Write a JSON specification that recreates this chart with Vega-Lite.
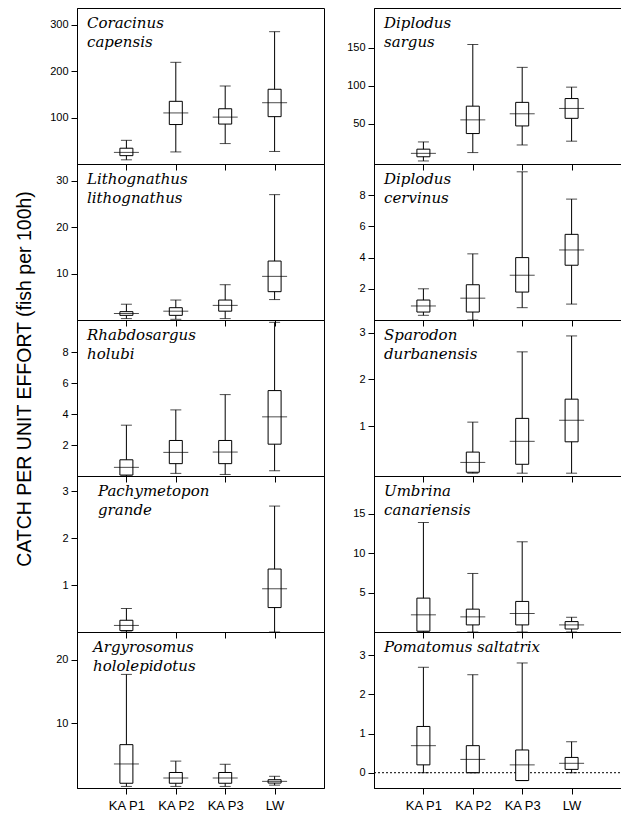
{
  "$schema": "https://vega.github.io/schema/vega-lite/v6.json",
  "padding": {"left": 14, "top": 7, "right": 0, "bottom": 4},
  "background": "white",
  "title": {"text": "CATCH PER UNIT EFFORT (fish per 100h)", "orient": "left", "anchor": "middle", "font": "Liberation Sans", "fontStyle": "normal", "fontSize": 19.5, "fontWeight": "normal", "color": "black", "offset": 14, "dx": 31},
  "data": {"values": [
    {"species": "Coracinus capensis", "site": "KA P1", "lo": 9, "q1": 18, "med": 25, "q3": 34, "hi": 51},
    {"species": "Coracinus capensis", "site": "KA P2", "lo": 26, "q1": 85, "med": 110, "q3": 135, "hi": 219},
    {"species": "Coracinus capensis", "site": "KA P3", "lo": 44, "q1": 86, "med": 101, "q3": 119, "hi": 168},
    {"species": "Coracinus capensis", "site": "LW", "lo": 27, "q1": 102, "med": 132, "q3": 161, "hi": 285},
    {"species": "Diplodus sargus", "site": "KA P1", "lo": 1, "q1": 6.5, "med": 11, "q3": 16.5, "hi": 26},
    {"species": "Diplodus sargus", "site": "KA P2", "lo": 12, "q1": 37, "med": 55, "q3": 73, "hi": 154},
    {"species": "Diplodus sargus", "site": "KA P3", "lo": 22, "q1": 47, "med": 63, "q3": 78, "hi": 124},
    {"species": "Diplodus sargus", "site": "LW", "lo": 27, "q1": 57, "med": 70, "q3": 83, "hi": 98},
    {"species": "Lithognathus lithognathus", "site": "KA P1", "lo": 0.3, "q1": 1.0, "med": 1.4, "q3": 1.8, "hi": 3.4},
    {"species": "Lithognathus lithognathus", "site": "KA P2", "lo": 0.15, "q1": 1.0, "med": 1.9, "q3": 2.65, "hi": 4.3},
    {"species": "Lithognathus lithognathus", "site": "KA P3", "lo": 0.3, "q1": 1.9, "med": 3.15, "q3": 4.3, "hi": 7.6},
    {"species": "Lithognathus lithognathus", "site": "LW", "lo": 4.4, "q1": 6.1, "med": 9.4, "q3": 12.7, "hi": 27},
    {"species": "Diplodus cervinus", "site": "KA P1", "lo": 0.3, "q1": 0.51, "med": 0.9, "q3": 1.28, "hi": 2.0},
    {"species": "Diplodus cervinus", "site": "KA P2", "lo": 0, "q1": 0.51, "med": 1.4, "q3": 2.26, "hi": 4.24},
    {"species": "Diplodus cervinus", "site": "KA P3", "lo": 0.79, "q1": 1.79, "med": 2.87, "q3": 4.0, "hi": 9.5},
    {"species": "Diplodus cervinus", "site": "LW", "lo": 1.02, "q1": 3.51, "med": 4.49, "q3": 5.49, "hi": 7.75},
    {"species": "Rhabdosargus holubi", "site": "KA P1", "lo": 0, "q1": 0.06, "med": 0.56, "q3": 1.05, "hi": 3.29},
    {"species": "Rhabdosargus holubi", "site": "KA P2", "lo": 0.17, "q1": 0.8, "med": 1.53, "q3": 2.3, "hi": 4.28},
    {"species": "Rhabdosargus holubi", "site": "KA P3", "lo": 0.1, "q1": 0.8, "med": 1.55, "q3": 2.3, "hi": 5.27},
    {"species": "Rhabdosargus holubi", "site": "LW", "lo": 0.34, "q1": 2.06, "med": 3.83, "q3": 5.53, "hi": 9.95},
    {"species": "Sparodon durbanensis", "site": "KA P2", "lo": 0, "q1": 0.02, "med": 0.23, "q3": 0.45, "hi": 1.09},
    {"species": "Sparodon durbanensis", "site": "KA P3", "lo": 0, "q1": 0.19, "med": 0.68, "q3": 1.17, "hi": 2.59},
    {"species": "Sparodon durbanensis", "site": "LW", "lo": 0, "q1": 0.67, "med": 1.13, "q3": 1.58, "hi": 2.93},
    {"species": "Pachymetopon grande", "site": "KA P1", "lo": 0, "q1": 0.03, "med": 0.14, "q3": 0.25, "hi": 0.5},
    {"species": "Pachymetopon grande", "site": "LW", "lo": 0, "q1": 0.52, "med": 0.92, "q3": 1.34, "hi": 2.68},
    {"species": "Umbrina canariensis", "site": "KA P1", "lo": 0, "q1": 0.1, "med": 2.18, "q3": 4.3, "hi": 13.9},
    {"species": "Umbrina canariensis", "site": "KA P2", "lo": 0, "q1": 0.9, "med": 1.92, "q3": 2.9, "hi": 7.43},
    {"species": "Umbrina canariensis", "site": "KA P3", "lo": 0, "q1": 0.9, "med": 2.35, "q3": 3.88, "hi": 11.45},
    {"species": "Umbrina canariensis", "site": "LW", "lo": 0, "q1": 0.38, "med": 0.9, "q3": 1.32, "hi": 1.87},
    {"species": "Argyrosomus hololepidotus", "site": "KA P1", "lo": 0, "q1": 0.5, "med": 3.55, "q3": 6.6, "hi": 17.7},
    {"species": "Argyrosomus hololepidotus", "site": "KA P2", "lo": 0, "q1": 0.5, "med": 1.33, "q3": 2.2, "hi": 4.0},
    {"species": "Argyrosomus hololepidotus", "site": "KA P3", "lo": 0, "q1": 0.5, "med": 1.33, "q3": 2.2, "hi": 3.5},
    {"species": "Argyrosomus hololepidotus", "site": "LW", "lo": 0.2, "q1": 0.53, "med": 0.8, "q3": 1.06, "hi": 1.6},
    {"species": "Pomatomus saltatrix", "site": "KA P1", "lo": 0, "q1": 0.2, "med": 0.69, "q3": 1.18, "hi": 2.69},
    {"species": "Pomatomus saltatrix", "site": "KA P2", "lo": 0, "q1": 0, "med": 0.34, "q3": 0.69, "hi": 2.5},
    {"species": "Pomatomus saltatrix", "site": "KA P3", "lo": -0.2, "q1": -0.2, "med": 0.2, "q3": 0.58, "hi": 2.8},
    {"species": "Pomatomus saltatrix", "site": "LW", "lo": 0, "q1": 0.085, "med": 0.24, "q3": 0.39, "hi": 0.79}
  ]},
  "columns": 2,
  "spacing": {"row": 0, "column": 50},
  "bounds": "flush",
  "concat": [
    {
      "width": 247, "height": 156,
      "title": {"text": ["Coracinus", "capensis"], "orient": "top", "anchor": "start", "frame": "group", "baseline": "top", "offset": -42, "dx": 10},
      "transform": [{"filter": "datum.species === 'Coracinus capensis'"}],
      "encoding": {"x": {"field": "site", "type": "nominal", "scale": {"type": "point", "padding": 1, "domain": ["KA P1", "KA P2", "KA P3", "LW"]}, "axis": {"labels": false, "title": null}}},
      "layer": [
        {"mark": {"type": "rule", "color": "black"}, "encoding": {"y": {"field": "lo", "type": "quantitative", "scale": {"domain": [0, 336], "nice": false, "zero": false}, "axis": {"values": [100, 200, 300], "title": null}}, "y2": {"field": "hi"}}},
        {"mark": {"type": "bar", "fill": "white", "stroke": "black", "strokeWidth": 1, "size": 13}, "encoding": {"y": {"field": "q1", "type": "quantitative", "scale": {"domain": [0, 336], "nice": false, "zero": false}, "axis": {"values": [100, 200, 300], "title": null}}, "y2": {"field": "q3"}}},
        {"mark": {"type": "tick", "color": "black", "size": 25, "thickness": 1}, "encoding": {"y": {"field": "med", "type": "quantitative", "scale": {"domain": [0, 336], "nice": false, "zero": false}, "axis": {"values": [100, 200, 300], "title": null}}}},
        {"mark": {"type": "tick", "color": "black", "size": 11, "thickness": 1}, "encoding": {"y": {"field": "lo", "type": "quantitative", "scale": {"domain": [0, 336], "nice": false, "zero": false}, "axis": {"values": [100, 200, 300], "title": null}}}},
        {"mark": {"type": "tick", "color": "black", "size": 11, "thickness": 1}, "encoding": {"y": {"field": "hi", "type": "quantitative", "scale": {"domain": [0, 336], "nice": false, "zero": false}, "axis": {"values": [100, 200, 300], "title": null}}}}
      ]
    },
    {
      "width": 247, "height": 156,
      "title": {"text": ["Diplodus", "sargus"], "orient": "top", "anchor": "start", "frame": "group", "baseline": "top", "offset": -42, "dx": 10},
      "transform": [{"filter": "datum.species === 'Diplodus sargus'"}],
      "encoding": {"x": {"field": "site", "type": "nominal", "scale": {"type": "point", "padding": 1, "domain": ["KA P1", "KA P2", "KA P3", "LW"]}, "axis": {"labels": false, "title": null}}},
      "layer": [
        {"mark": {"type": "rule", "color": "black"}, "encoding": {"y": {"field": "lo", "type": "quantitative", "scale": {"domain": [-3, 202], "nice": false, "zero": false}, "axis": {"values": [50, 100, 150], "title": null}}, "y2": {"field": "hi"}}},
        {"mark": {"type": "bar", "fill": "white", "stroke": "black", "strokeWidth": 1, "size": 13}, "encoding": {"y": {"field": "q1", "type": "quantitative", "scale": {"domain": [-3, 202], "nice": false, "zero": false}, "axis": {"values": [50, 100, 150], "title": null}}, "y2": {"field": "q3"}}},
        {"mark": {"type": "tick", "color": "black", "size": 25, "thickness": 1}, "encoding": {"y": {"field": "med", "type": "quantitative", "scale": {"domain": [-3, 202], "nice": false, "zero": false}, "axis": {"values": [50, 100, 150], "title": null}}}},
        {"mark": {"type": "tick", "color": "black", "size": 11, "thickness": 1}, "encoding": {"y": {"field": "lo", "type": "quantitative", "scale": {"domain": [-3, 202], "nice": false, "zero": false}, "axis": {"values": [50, 100, 150], "title": null}}}},
        {"mark": {"type": "tick", "color": "black", "size": 11, "thickness": 1}, "encoding": {"y": {"field": "hi", "type": "quantitative", "scale": {"domain": [-3, 202], "nice": false, "zero": false}, "axis": {"values": [50, 100, 150], "title": null}}}}
      ]
    },
    {
      "width": 247, "height": 156,
      "title": {"text": ["Lithognathus", "lithognathus"], "orient": "top", "anchor": "start", "frame": "group", "baseline": "top", "offset": -42, "dx": 10},
      "transform": [{"filter": "datum.species === 'Lithognathus lithognathus'"}],
      "encoding": {"x": {"field": "site", "type": "nominal", "scale": {"type": "point", "padding": 1, "domain": ["KA P1", "KA P2", "KA P3", "LW"]}, "axis": {"labels": false, "title": null}}},
      "layer": [
        {"mark": {"type": "rule", "color": "black"}, "encoding": {"y": {"field": "lo", "type": "quantitative", "scale": {"domain": [0, 33.6], "nice": false, "zero": false}, "axis": {"values": [10, 20, 30], "title": null}}, "y2": {"field": "hi"}}},
        {"mark": {"type": "bar", "fill": "white", "stroke": "black", "strokeWidth": 1, "size": 13}, "encoding": {"y": {"field": "q1", "type": "quantitative", "scale": {"domain": [0, 33.6], "nice": false, "zero": false}, "axis": {"values": [10, 20, 30], "title": null}}, "y2": {"field": "q3"}}},
        {"mark": {"type": "tick", "color": "black", "size": 25, "thickness": 1}, "encoding": {"y": {"field": "med", "type": "quantitative", "scale": {"domain": [0, 33.6], "nice": false, "zero": false}, "axis": {"values": [10, 20, 30], "title": null}}}},
        {"mark": {"type": "tick", "color": "black", "size": 11, "thickness": 1}, "encoding": {"y": {"field": "lo", "type": "quantitative", "scale": {"domain": [0, 33.6], "nice": false, "zero": false}, "axis": {"values": [10, 20, 30], "title": null}}}},
        {"mark": {"type": "tick", "color": "black", "size": 11, "thickness": 1}, "encoding": {"y": {"field": "hi", "type": "quantitative", "scale": {"domain": [0, 33.6], "nice": false, "zero": false}, "axis": {"values": [10, 20, 30], "title": null}}}}
      ]
    },
    {
      "width": 247, "height": 156,
      "title": {"text": ["Diplodus", "cervinus"], "orient": "top", "anchor": "start", "frame": "group", "baseline": "top", "offset": -42, "dx": 10},
      "transform": [{"filter": "datum.species === 'Diplodus cervinus'"}],
      "encoding": {"x": {"field": "site", "type": "nominal", "scale": {"type": "point", "padding": 1, "domain": ["KA P1", "KA P2", "KA P3", "LW"]}, "axis": {"labels": false, "title": null}}},
      "layer": [
        {"mark": {"type": "rule", "color": "black"}, "encoding": {"y": {"field": "lo", "type": "quantitative", "scale": {"domain": [0, 10], "nice": false, "zero": false}, "axis": {"values": [2, 4, 6, 8], "title": null}}, "y2": {"field": "hi"}}},
        {"mark": {"type": "bar", "fill": "white", "stroke": "black", "strokeWidth": 1, "size": 13}, "encoding": {"y": {"field": "q1", "type": "quantitative", "scale": {"domain": [0, 10], "nice": false, "zero": false}, "axis": {"values": [2, 4, 6, 8], "title": null}}, "y2": {"field": "q3"}}},
        {"mark": {"type": "tick", "color": "black", "size": 25, "thickness": 1}, "encoding": {"y": {"field": "med", "type": "quantitative", "scale": {"domain": [0, 10], "nice": false, "zero": false}, "axis": {"values": [2, 4, 6, 8], "title": null}}}},
        {"mark": {"type": "tick", "color": "black", "size": 11, "thickness": 1}, "encoding": {"y": {"field": "lo", "type": "quantitative", "scale": {"domain": [0, 10], "nice": false, "zero": false}, "axis": {"values": [2, 4, 6, 8], "title": null}}}},
        {"mark": {"type": "tick", "color": "black", "size": 11, "thickness": 1}, "encoding": {"y": {"field": "hi", "type": "quantitative", "scale": {"domain": [0, 10], "nice": false, "zero": false}, "axis": {"values": [2, 4, 6, 8], "title": null}}}}
      ]
    },
    {
      "width": 247, "height": 156,
      "title": {"text": ["Rhabdosargus", "holubi"], "orient": "top", "anchor": "start", "frame": "group", "baseline": "top", "offset": -42, "dx": 10},
      "transform": [{"filter": "datum.species === 'Rhabdosargus holubi'"}],
      "encoding": {"x": {"field": "site", "type": "nominal", "scale": {"type": "point", "padding": 1, "domain": ["KA P1", "KA P2", "KA P3", "LW"]}, "axis": {"labels": false, "title": null}}},
      "layer": [
        {"mark": {"type": "rule", "color": "black"}, "encoding": {"y": {"field": "lo", "type": "quantitative", "scale": {"domain": [0, 10.1], "nice": false, "zero": false}, "axis": {"values": [2, 4, 6, 8], "title": null}}, "y2": {"field": "hi"}}},
        {"mark": {"type": "bar", "fill": "white", "stroke": "black", "strokeWidth": 1, "size": 13}, "encoding": {"y": {"field": "q1", "type": "quantitative", "scale": {"domain": [0, 10.1], "nice": false, "zero": false}, "axis": {"values": [2, 4, 6, 8], "title": null}}, "y2": {"field": "q3"}}},
        {"mark": {"type": "tick", "color": "black", "size": 25, "thickness": 1}, "encoding": {"y": {"field": "med", "type": "quantitative", "scale": {"domain": [0, 10.1], "nice": false, "zero": false}, "axis": {"values": [2, 4, 6, 8], "title": null}}}},
        {"mark": {"type": "tick", "color": "black", "size": 11, "thickness": 1}, "encoding": {"y": {"field": "lo", "type": "quantitative", "scale": {"domain": [0, 10.1], "nice": false, "zero": false}, "axis": {"values": [2, 4, 6, 8], "title": null}}}},
        {"mark": {"type": "tick", "color": "black", "size": 11, "thickness": 1}, "encoding": {"y": {"field": "hi", "type": "quantitative", "scale": {"domain": [0, 10.1], "nice": false, "zero": false}, "axis": {"values": [2, 4, 6, 8], "title": null}}}}
      ]
    },
    {
      "width": 247, "height": 156,
      "title": {"text": ["Sparodon", "durbanensis"], "orient": "top", "anchor": "start", "frame": "group", "baseline": "top", "offset": -42, "dx": 10},
      "transform": [{"filter": "datum.species === 'Sparodon durbanensis'"}],
      "encoding": {"x": {"field": "site", "type": "nominal", "scale": {"type": "point", "padding": 1, "domain": ["KA P1", "KA P2", "KA P3", "LW"]}, "axis": {"labels": false, "title": null}}},
      "layer": [
        {"mark": {"type": "rule", "color": "black"}, "encoding": {"y": {"field": "lo", "type": "quantitative", "scale": {"domain": [-0.06, 3.27], "nice": false, "zero": false}, "axis": {"values": [1, 2, 3], "title": null}}, "y2": {"field": "hi"}}},
        {"mark": {"type": "bar", "fill": "white", "stroke": "black", "strokeWidth": 1, "size": 13}, "encoding": {"y": {"field": "q1", "type": "quantitative", "scale": {"domain": [-0.06, 3.27], "nice": false, "zero": false}, "axis": {"values": [1, 2, 3], "title": null}}, "y2": {"field": "q3"}}},
        {"mark": {"type": "tick", "color": "black", "size": 25, "thickness": 1}, "encoding": {"y": {"field": "med", "type": "quantitative", "scale": {"domain": [-0.06, 3.27], "nice": false, "zero": false}, "axis": {"values": [1, 2, 3], "title": null}}}},
        {"mark": {"type": "tick", "color": "black", "size": 11, "thickness": 1}, "encoding": {"y": {"field": "lo", "type": "quantitative", "scale": {"domain": [-0.06, 3.27], "nice": false, "zero": false}, "axis": {"values": [1, 2, 3], "title": null}}}},
        {"mark": {"type": "tick", "color": "black", "size": 11, "thickness": 1}, "encoding": {"y": {"field": "hi", "type": "quantitative", "scale": {"domain": [-0.06, 3.27], "nice": false, "zero": false}, "axis": {"values": [1, 2, 3], "title": null}}}}
      ]
    },
    {
      "width": 247, "height": 156,
      "title": {"text": ["Pachymetopon", "grande"], "orient": "top", "anchor": "start", "frame": "group", "baseline": "top", "offset": -42, "dx": 21},
      "transform": [{"filter": "datum.species === 'Pachymetopon grande'"}],
      "encoding": {"x": {"field": "site", "type": "nominal", "scale": {"type": "point", "padding": 1, "domain": ["KA P1", "KA P2", "KA P3", "LW"]}, "axis": {"labels": false, "title": null}}},
      "layer": [
        {"mark": {"type": "rule", "color": "black"}, "encoding": {"y": {"field": "lo", "type": "quantitative", "scale": {"domain": [0, 3.32], "nice": false, "zero": false}, "axis": {"values": [1, 2, 3], "title": null}}, "y2": {"field": "hi"}}},
        {"mark": {"type": "bar", "fill": "white", "stroke": "black", "strokeWidth": 1, "size": 13}, "encoding": {"y": {"field": "q1", "type": "quantitative", "scale": {"domain": [0, 3.32], "nice": false, "zero": false}, "axis": {"values": [1, 2, 3], "title": null}}, "y2": {"field": "q3"}}},
        {"mark": {"type": "tick", "color": "black", "size": 25, "thickness": 1}, "encoding": {"y": {"field": "med", "type": "quantitative", "scale": {"domain": [0, 3.32], "nice": false, "zero": false}, "axis": {"values": [1, 2, 3], "title": null}}}},
        {"mark": {"type": "tick", "color": "black", "size": 11, "thickness": 1}, "encoding": {"y": {"field": "lo", "type": "quantitative", "scale": {"domain": [0, 3.32], "nice": false, "zero": false}, "axis": {"values": [1, 2, 3], "title": null}}}},
        {"mark": {"type": "tick", "color": "black", "size": 11, "thickness": 1}, "encoding": {"y": {"field": "hi", "type": "quantitative", "scale": {"domain": [0, 3.32], "nice": false, "zero": false}, "axis": {"values": [1, 2, 3], "title": null}}}}
      ]
    },
    {
      "width": 247, "height": 156,
      "title": {"text": ["Umbrina", "canariensis"], "orient": "top", "anchor": "start", "frame": "group", "baseline": "top", "offset": -42, "dx": 10},
      "transform": [{"filter": "datum.species === 'Umbrina canariensis'"}],
      "encoding": {"x": {"field": "site", "type": "nominal", "scale": {"type": "point", "padding": 1, "domain": ["KA P1", "KA P2", "KA P3", "LW"]}, "axis": {"labels": false, "title": null}}},
      "layer": [
        {"mark": {"type": "rule", "color": "black"}, "encoding": {"y": {"field": "lo", "type": "quantitative", "scale": {"domain": [0, 19.8], "nice": false, "zero": false}, "axis": {"values": [5, 10, 15], "title": null}}, "y2": {"field": "hi"}}},
        {"mark": {"type": "bar", "fill": "white", "stroke": "black", "strokeWidth": 1, "size": 13}, "encoding": {"y": {"field": "q1", "type": "quantitative", "scale": {"domain": [0, 19.8], "nice": false, "zero": false}, "axis": {"values": [5, 10, 15], "title": null}}, "y2": {"field": "q3"}}},
        {"mark": {"type": "tick", "color": "black", "size": 25, "thickness": 1}, "encoding": {"y": {"field": "med", "type": "quantitative", "scale": {"domain": [0, 19.8], "nice": false, "zero": false}, "axis": {"values": [5, 10, 15], "title": null}}}},
        {"mark": {"type": "tick", "color": "black", "size": 11, "thickness": 1}, "encoding": {"y": {"field": "lo", "type": "quantitative", "scale": {"domain": [0, 19.8], "nice": false, "zero": false}, "axis": {"values": [5, 10, 15], "title": null}}}},
        {"mark": {"type": "tick", "color": "black", "size": 11, "thickness": 1}, "encoding": {"y": {"field": "hi", "type": "quantitative", "scale": {"domain": [0, 19.8], "nice": false, "zero": false}, "axis": {"values": [5, 10, 15], "title": null}}}}
      ]
    },
    {
      "width": 247, "height": 156,
      "title": {"text": ["Argyrosomus", "hololepidotus"], "orient": "top", "anchor": "start", "frame": "group", "baseline": "top", "offset": -42, "dx": 16},
      "transform": [{"filter": "datum.species === 'Argyrosomus hololepidotus'"}],
      "encoding": {"x": {"field": "site", "type": "nominal", "scale": {"type": "point", "padding": 1, "domain": ["KA P1", "KA P2", "KA P3", "LW"]}, "axis": {"title": null}}},
      "layer": [
        {"mark": {"type": "rule", "color": "black"}, "encoding": {"y": {"field": "lo", "type": "quantitative", "scale": {"domain": [-0.25, 24.4], "nice": false, "zero": false}, "axis": {"values": [10, 20], "title": null}}, "y2": {"field": "hi"}}},
        {"mark": {"type": "bar", "fill": "white", "stroke": "black", "strokeWidth": 1, "size": 13}, "encoding": {"y": {"field": "q1", "type": "quantitative", "scale": {"domain": [-0.25, 24.4], "nice": false, "zero": false}, "axis": {"values": [10, 20], "title": null}}, "y2": {"field": "q3"}}},
        {"mark": {"type": "tick", "color": "black", "size": 25, "thickness": 1}, "encoding": {"y": {"field": "med", "type": "quantitative", "scale": {"domain": [-0.25, 24.4], "nice": false, "zero": false}, "axis": {"values": [10, 20], "title": null}}}},
        {"mark": {"type": "tick", "color": "black", "size": 11, "thickness": 1}, "encoding": {"y": {"field": "lo", "type": "quantitative", "scale": {"domain": [-0.25, 24.4], "nice": false, "zero": false}, "axis": {"values": [10, 20], "title": null}}}},
        {"mark": {"type": "tick", "color": "black", "size": 11, "thickness": 1}, "encoding": {"y": {"field": "hi", "type": "quantitative", "scale": {"domain": [-0.25, 24.4], "nice": false, "zero": false}, "axis": {"values": [10, 20], "title": null}}}}
      ]
    },
    {
      "width": 247, "height": 156,
      "title": {"text": "Pomatomus saltatrix", "orient": "top", "anchor": "start", "frame": "group", "baseline": "top", "offset": -23, "dx": 10},
      "transform": [{"filter": "datum.species === 'Pomatomus saltatrix'"}],
      "encoding": {"x": {"field": "site", "type": "nominal", "scale": {"type": "point", "padding": 1, "domain": ["KA P1", "KA P2", "KA P3", "LW"]}, "axis": {"title": null}}},
      "layer": [
        {"transform": [{"aggregate": [{"op": "count", "as": "n"}]}], "mark": {"type": "rule", "color": "black", "strokeDash": [2, 2], "strokeWidth": 1}, "encoding": {"x": {"value": 0}, "x2": {"value": 247}, "y": {"datum": 0, "type": "quantitative", "scale": {"domain": [-0.39, 3.59], "nice": false, "zero": false}, "axis": {"values": [0, 1, 2, 3], "title": null}}}},
        {"mark": {"type": "rule", "color": "black"}, "encoding": {"y": {"field": "lo", "type": "quantitative", "scale": {"domain": [-0.39, 3.59], "nice": false, "zero": false}, "axis": {"values": [0, 1, 2, 3], "title": null}}, "y2": {"field": "hi"}}},
        {"mark": {"type": "bar", "fill": "white", "stroke": "black", "strokeWidth": 1, "size": 13}, "encoding": {"y": {"field": "q1", "type": "quantitative", "scale": {"domain": [-0.39, 3.59], "nice": false, "zero": false}, "axis": {"values": [0, 1, 2, 3], "title": null}}, "y2": {"field": "q3"}}},
        {"mark": {"type": "tick", "color": "black", "size": 25, "thickness": 1}, "encoding": {"y": {"field": "med", "type": "quantitative", "scale": {"domain": [-0.39, 3.59], "nice": false, "zero": false}, "axis": {"values": [0, 1, 2, 3], "title": null}}}},
        {"mark": {"type": "tick", "color": "black", "size": 11, "thickness": 1}, "encoding": {"y": {"field": "lo", "type": "quantitative", "scale": {"domain": [-0.39, 3.59], "nice": false, "zero": false}, "axis": {"values": [0, 1, 2, 3], "title": null}}}},
        {"mark": {"type": "tick", "color": "black", "size": 11, "thickness": 1}, "encoding": {"y": {"field": "hi", "type": "quantitative", "scale": {"domain": [-0.39, 3.59], "nice": false, "zero": false}, "axis": {"values": [0, 1, 2, 3], "title": null}}}}
      ]
    }
  ],
  "config": {
    "view": {"stroke": "black", "strokeWidth": 1},
    "title": {"font": "DejaVu Serif", "fontStyle": "italic", "fontWeight": "normal", "fontSize": 15, "lineHeight": 19, "color": "black"},
    "axis": {"grid": false, "domainColor": "black", "tickColor": "black", "tickSize": 6, "labelFont": "Liberation Sans", "labelFontSize": 11, "labelColor": "black", "labelPadding": 3},
    "axisX": {"labelAngle": 0, "labelFontSize": 13, "labelPadding": 5}
  }
}
